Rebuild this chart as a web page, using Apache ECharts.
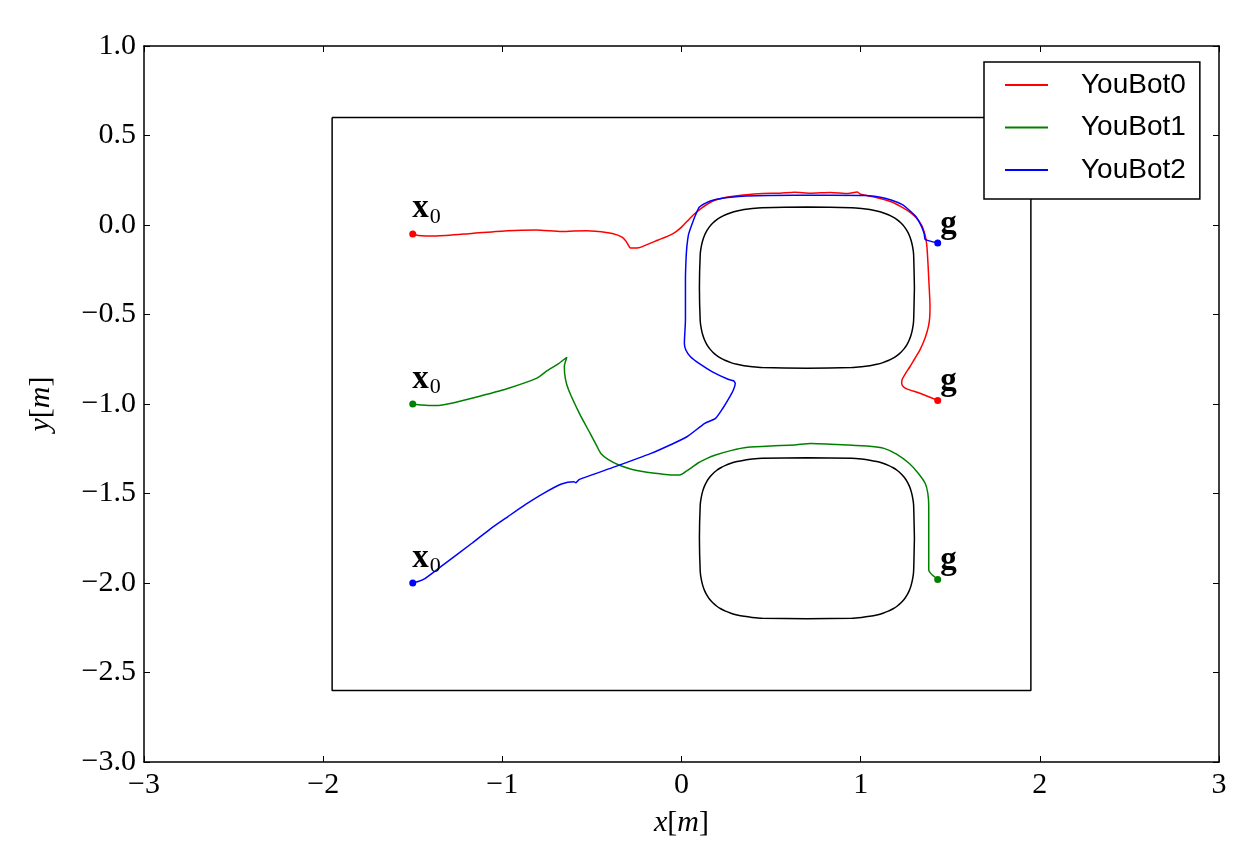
<!DOCTYPE html>
<html>
<head>
<meta charset="utf-8">
<title>YouBot trajectories</title>
<script src="https://cdn.jsdelivr.net/npm/echarts@6/dist/echarts.min.js"></script>
<style>
  html, body { margin: 0; padding: 0; background: #fff; }
  #chart { width: 1253px; height: 849px; }
</style>
</head>
<body>
<div id="chart"></div>
<script>
// robot names (legend)
const botNames = ['YouBot0', 'YouBot1', 'YouBot2'];
const botColors = ['#ff0000', '#008000', '#0000ff'];

// measured trajectories [x, y] in metres
const youBot0 = [
  [-1.50, -0.050], [-1.47, -0.058], [-1.37, -0.061], [-1.17, -0.047], [-0.97, -0.032],
  [-0.81, -0.028], [-0.67, -0.037], [-0.60, -0.033], [-0.53, -0.032], [-0.41, -0.043],
  [-0.36, -0.055], [-0.33, -0.069], [-0.31, -0.090], [-0.295, -0.115], [-0.285, -0.128],
  [-0.25, -0.128], [-0.23, -0.125], [-0.13, -0.084], [-0.06, -0.055], [-0.03, -0.037],
  [0.00, -0.012], [0.03, 0.019], [0.07, 0.060], [0.11, 0.093], [0.15, 0.120],
  [0.19, 0.140], [0.25, 0.155], [0.31, 0.164], [0.43, 0.175], [0.55, 0.178],
  [0.63, 0.183], [0.72, 0.178], [0.83, 0.182], [0.93, 0.176], [0.98, 0.184],
  [1.00, 0.172], [1.07, 0.158], [1.17, 0.130], [1.23, 0.100], [1.28, 0.068],
  [1.31, 0.040], [1.34, 0.000], [1.355, -0.040], [1.365, -0.080], [1.372, -0.150],
  [1.380, -0.300], [1.387, -0.456], [1.385, -0.520], [1.378, -0.568], [1.360, -0.630],
  [1.331, -0.698], [1.300, -0.750], [1.275, -0.792], [1.250, -0.830], [1.232, -0.862],
  [1.229, -0.885], [1.240, -0.905], [1.260, -0.917], [1.331, -0.940], [1.43, -0.980]
];
const youBot1 = [
  [-1.50, -1.000], [-1.45, -1.006], [-1.37, -1.009], [-1.27, -0.993], [-1.17, -0.968],
  [-0.97, -0.913], [-0.81, -0.857], [-0.75, -0.814], [-0.69, -0.777], [-0.64, -0.739],
  [-0.654, -0.791], [-0.648, -0.860], [-0.63, -0.922], [-0.57, -1.052], [-0.51, -1.164],
  [-0.47, -1.240], [-0.45, -1.276], [-0.41, -1.310], [-0.35, -1.341], [-0.28, -1.364],
  [-0.21, -1.378], [-0.12, -1.390], [-0.05, -1.397], [-0.01, -1.396], [0.01, -1.387],
  [0.05, -1.360], [0.09, -1.331], [0.14, -1.305], [0.19, -1.285], [0.28, -1.259],
  [0.37, -1.242], [0.50, -1.234], [0.63, -1.229], [0.72, -1.220], [0.93, -1.229],
  [1.05, -1.236], [1.13, -1.248], [1.20, -1.280], [1.27, -1.331], [1.32, -1.385],
  [1.36, -1.443], [1.375, -1.500], [1.38, -1.574], [1.38, -1.927], [1.39, -1.945],
  [1.40, -1.955], [1.43, -1.980]
];
const youBot2 = [
  [-1.50, -2.000], [-1.47, -1.992], [-1.43, -1.974], [-1.33, -1.899], [-1.17, -1.778],
  [-1.07, -1.700], [-0.97, -1.630], [-0.87, -1.561], [-0.77, -1.499], [-0.67, -1.447],
  [-0.60, -1.434], [-0.59, -1.440], [-0.57, -1.421], [-0.37, -1.350], [-0.17, -1.276],
  [-0.07, -1.232], [0.03, -1.183], [0.13, -1.108], [0.19, -1.080], [0.23, -1.025],
  [0.27, -0.959], [0.29, -0.920], [0.30, -0.885], [0.29, -0.870], [0.26, -0.862],
  [0.17, -0.819], [0.10, -0.775], [0.05, -0.736], [0.025, -0.700], [0.016, -0.661],
  [0.022, -0.531], [0.022, -0.307], [0.025, -0.200], [0.03, -0.121], [0.04, -0.050],
  [0.06, 0.009], [0.08, 0.060], [0.10, 0.100], [0.14, 0.125], [0.18, 0.140],
  [0.26, 0.153], [0.36, 0.162], [0.63, 0.166], [0.83, 0.166], [1.03, 0.165],
  [1.11, 0.155], [1.17, 0.140], [1.23, 0.115], [1.27, 0.084], [1.31, 0.045],
  [1.34, -0.009], [1.355, -0.050], [1.36, -0.080], [1.43, -0.100]
];

// start / goal points
const starts = [[-1.50, -0.05], [-1.50, -1.00], [-1.50, -2.00]];
const goals = [[1.43, -0.98], [1.43, -1.98], [1.43, -0.10]];

// workspace boundary corners
const boundary = [[-1.95, 0.6], [1.95, 0.6], [1.95, -2.6], [-1.95, -2.6], [-1.95, 0.6]];

// obstacle outline, one quarter (offsets from centre)
const quarterOutline = [
  [0.600, 0.000], [0.5954, 0.1875], [0.5897, 0.2289], [0.5816, 0.2632], [0.5712, 0.2925],
  [0.5584, 0.3182], [0.5431, 0.3408], [0.5251, 0.3608], [0.5045, 0.3784], [0.4810, 0.3938],
  [0.4544, 0.4073], [0.4243, 0.4188], [0.3901, 0.4284], [0.3509, 0.4362], [0.3052, 0.4423],
  [0.2500, 0.4466], [0.000, 0.450]
];
const obstacleCentres = [[0.70, -0.35], [0.70, -1.75]];

// mirror the quarter into a closed loop around each centre
const outlineAround = (c) => {
  const q = quarterOutline;
  const pts = [];
  q.forEach(p => pts.push([c[0] + p[0], c[1] + p[1]]));
  q.slice().reverse().forEach(p => pts.push([c[0] - p[0], c[1] + p[1]]));
  q.forEach(p => pts.push([c[0] - p[0], c[1] - p[1]]));
  q.slice().reverse().forEach(p => pts.push([c[0] + p[0], c[1] - p[1]]));
  return pts;
};

const serif = 'Liberation Serif';
const minus = (s) => String(s).replace('-', '\u2212');

const chart = echarts.init(document.getElementById('chart'));

const axisCommon = {
  type: 'value',
  axisLine: { show: true, onZero: false, lineStyle: { color: '#000', width: 1.5 } },
  axisTick: { show: true, inside: true, length: 6, lineStyle: { color: '#000', width: 1 } },
  splitLine: { show: false }
};

const labelRich = {
  x: { fontFamily: serif, fontWeight: 'bold', fontSize: 33, color: '#000', verticalAlign: 'top', lineHeight: 32 },
  s: { fontFamily: serif, fontSize: 22, color: '#000', verticalAlign: 'top', lineHeight: 22, padding: [14, 0, 0, 1] },
  g: { fontFamily: serif, fontWeight: 'bold', fontSize: 33, color: '#000', lineHeight: 32 }
};

const trajSeries = [youBot0, youBot1, youBot2].map((d, i) => ({
  name: botNames[i],
  type: 'line',
  data: d,
  showSymbol: false,
  smooth: 0.2,
  color: botColors[i],
  lineStyle: { color: botColors[i], width: 1.5 },
  z: 3
}));

const pointSeries = botNames.map((n, i) => ({
  name: n + ' ends',
  type: 'scatter',
  symbolSize: 7,
  itemStyle: { color: botColors[i], opacity: 1 },
  z: 4,
  data: [
    {
      value: starts[i],
      label: { show: true, position: [3, -38], align: 'left', verticalAlign: 'top',
        formatter: '{x|x}{s|0}', rich: labelRich }
    },
    {
      value: goals[i],
      label: { show: true, position: [6, -31], align: 'left', verticalAlign: 'top',
        formatter: '{g|g}', rich: labelRich }
    }
  ]
}));

const shapeSeries = [
  { name: 'boundary', type: 'line', data: boundary, showSymbol: false,
    lineStyle: { color: '#000', width: 1.5 }, z: 2 }
].concat(obstacleCentres.map((c, i) => ({
  name: 'obstacle' + i, type: 'line', data: outlineAround(c), showSymbol: false,
  smooth: 0.2,
  lineStyle: { color: '#000', width: 1.5 }, z: 2
})));

chart.setOption({
  animation: false,
  backgroundColor: '#fff',
  grid: { left: 144, top: 46, width: 1075, height: 716, containLabel: false },
  legend: {
    data: botNames,
    orient: 'vertical',
    left: 984,
    top: 62,
    icon: 'rect',
    itemWidth: 43,
    itemHeight: 2,
    itemGap: 14.5,
    padding: [9, 14, 15, 21],
    borderColor: '#000',
    borderWidth: 1.5,
    backgroundColor: '#fff',
    textStyle: { fontFamily: 'Liberation Sans', fontSize: 28, color: '#000', lineHeight: 28, padding: [0, 0, 0, 28] }
  },
  xAxis: [
    Object.assign({}, axisCommon, {
      min: -3, max: 3, interval: 1, position: 'bottom',
      axisLabel: { fontFamily: serif, fontSize: 30, color: '#000', margin: 8, formatter: (v) => minus(v) },
      name: '{i|x}[{i|m}]',
      nameLocation: 'middle',
      nameGap: 46,
      nameTextStyle: {
        fontFamily: serif, fontSize: 30, color: '#000',
        rich: { i: { fontFamily: serif, fontStyle: 'italic', fontSize: 30, color: '#000' } }
      }
    }),
    Object.assign({}, axisCommon, {
      min: -3, max: 3, interval: 1, position: 'top',
      axisLabel: { show: false }
    })
  ],
  yAxis: [
    Object.assign({}, axisCommon, {
      min: -3, max: 1, interval: 0.5, position: 'left',
      axisLabel: { fontFamily: serif, fontSize: 30, color: '#000', margin: 8, formatter: (v) => minus(v.toFixed(1)) },
      name: '{i|y}[{i|m}]',
      nameLocation: 'middle',
      nameGap: 88,
      nameRotate: 90,
      nameTextStyle: {
        fontFamily: serif, fontSize: 30, color: '#000',
        rich: { i: { fontFamily: serif, fontStyle: 'italic', fontSize: 30, color: '#000' } }
      }
    }),
    Object.assign({}, axisCommon, {
      min: -3, max: 1, interval: 0.5, position: 'right',
      axisLabel: { show: false }
    })
  ],
  series: shapeSeries.concat(trajSeries, pointSeries)
});
</script>
</body>
</html>
